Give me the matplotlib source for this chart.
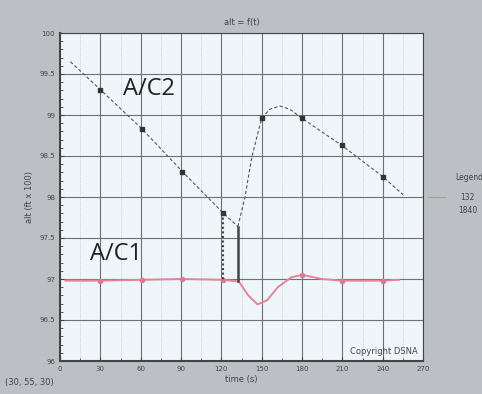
import matplotlib
matplotlib.use("Agg")
import matplotlib.pyplot as plt
from matplotlib.ticker import MultipleLocator

# A/C2 track (black, dashed, markers every 30 s)
ac2_t1 = [7.7, 30, 61, 91, 121, 132.3]
ac2_a1 = [99.65, 99.31, 98.83, 98.31, 97.81, 97.64]
ac2_t2 = [132.3, 137.5, 142.7, 150, 156, 163.5, 171, 180, 209.5, 240, 255]
ac2_a2 = [97.64, 97.99, 98.49, 98.96, 99.07, 99.11, 99.07, 98.96, 98.63, 98.25, 98.03]
ac2_mark_t = [30, 61, 91, 121, 150, 180, 209.5, 240]
ac2_mark_a = [99.31, 98.83, 98.31, 97.81, 98.96, 98.96, 98.63, 98.25]

# A/C1 track (pink)
ac1_t = [4, 30, 61, 91, 121, 133, 140, 147, 154, 162, 172, 180, 195, 209.5, 240, 252]
ac1_a = [96.98, 96.98, 96.99, 97.0, 96.99, 96.97, 96.8, 96.69, 96.74, 96.9, 97.02, 97.05, 97.0, 96.98, 96.98, 96.99]
ac1_mark_t = [30, 61, 91, 121, 180, 209.5, 240]
ac1_mark_a = [96.98, 96.99, 97.0, 96.99, 97.05, 96.98, 96.98]

# separation sticks
sep_dotted = [121, 97.81, 96.99]
sep_solid = [132.3, 97.64, 96.98]

x_ticks = [0, 30, 60, 90, 120, 150, 180, 210, 240, 270]
y_ticks = [96, 96.5, 97, 97.5, 98, 98.5, 99, 99.5, 100]

bg = "#bcbfc3"
fig = plt.figure(figsize=(4.82, 3.94), dpi=100, facecolor=bg)
ax = fig.add_axes([60/482, 33/394, 363/482, 328/394], facecolor="#eef6f9")

ax.plot(ac2_t1, ac2_a1, color="#555555", lw=0.8, ls=(0, (3, 2)))
ax.plot(ac2_t2, ac2_a2, color="#555555", lw=0.8, ls=(0, (3, 2)))
ax.plot(ac2_mark_t, ac2_mark_a, ls="none", marker="s", ms=3.5, color="#333333")

ax.plot(ac1_t, ac1_a, color="#e4849c", lw=1.4)
ax.plot(ac1_mark_t, ac1_mark_a, ls="none", marker="o", ms=3, color="#e07a94")

ax.plot([sep_dotted[0]]*2, sep_dotted[1:], color="#444444", lw=1.5, ls=(0, (1, 1.2)))
ax.plot([sep_solid[0]]*2, sep_solid[1:], color="#444444", lw=1.8)

ax.set_xlim(0, 270)
ax.set_ylim(96, 100)
ax.set_xticks(x_ticks)
ax.set_yticks(y_ticks)
ax.set_yticklabels(["%g" % v for v in y_ticks])
ax.xaxis.set_minor_locator(MultipleLocator(15))
ax.yaxis.set_minor_locator(MultipleLocator(0.1))
ax.tick_params(which="both", direction="in", labelsize=5, colors="#444444", length=3)
ax.tick_params(which="minor", length=2)
ax.grid(True, which="major", color="#707070", lw=0.8)
ax.grid(True, which="minor", axis="x", color="#b5b5b5", lw=0.5, ls=":")
for s in ax.spines.values():
    s.set_color("#444444")
ax.spines["left"].set_linewidth(1.5)
ax.spines["bottom"].set_linewidth(1.5)

ax.set_title("alt = f(t)", fontsize=6, color="#444444", pad=6)
ax.set_xlabel("time (s)", fontsize=6, color="#444444", labelpad=2)
ax.set_ylabel("alt (ft x 100)", fontsize=6, color="#444444", labelpad=4)

ax.text(0.985, 0.015, "Copyright DSNA", transform=ax.transAxes, ha="right", va="bottom",
        fontsize=6, color="#444444")

fig.text(123/482, 1 - 89/394, "A/C2", fontsize=17, family="Open Sans", color="#222222", va="center")
fig.text(90/482, 1 - 254/394, "A/C1", fontsize=17, family="Open Sans", color="#222222", va="center")

# legend area on the right
fig.text(455/482, 1 - 178/394, "Legend", fontsize=5.5, color="#444444", ha="left", va="center")
fig.add_artist(plt.Line2D([428/482, 445/482], [1 - 197/394]*2, color="#e4849c", lw=0.8))
fig.text(460/482, 1 - 197/394, "132", fontsize=5.5, color="#444444", va="center")
fig.text(458/482, 1 - 210/394, "1840", fontsize=5.5, color="#444444", va="center")

fig.text(5/482, 1 - 383/394, "(30, 55, 30)", fontsize=6, color="#444444", va="center")

fig.savefig("out.png", dpi=100, facecolor=bg)
